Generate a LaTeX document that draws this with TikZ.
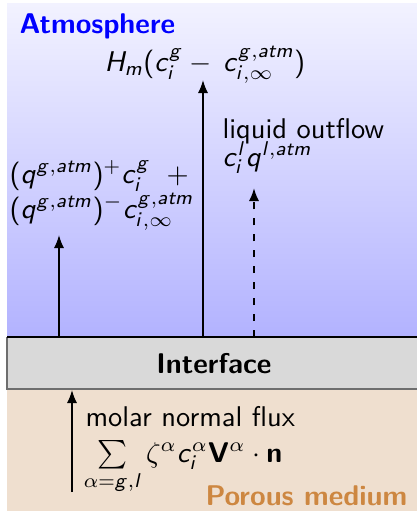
\documentclass[tikz,border=0pt]{standalone}
\usetikzlibrary{arrows.meta}
\renewcommand{\familydefault}{\sfdefault}
\DeclareSymbolFont{sfit}{OT1}{cmss}{m}{sl}
\SetSymbolFont{operators}{normal}{OT1}{cmss}{m}{n}
\DeclareMathAlphabet{\mathbf}{OT1}{cmss}{bx}{n}
\DeclareMathSymbol{H}{\mathalpha}{sfit}{`H}
\DeclareMathSymbol{m}{\mathalpha}{sfit}{`m}
\DeclareMathSymbol{c}{\mathalpha}{sfit}{`c}
\DeclareMathSymbol{i}{\mathalpha}{sfit}{`i}
\DeclareMathSymbol{g}{\mathalpha}{sfit}{`g}
\DeclareMathSymbol{a}{\mathalpha}{sfit}{`a}
\DeclareMathSymbol{t}{\mathalpha}{sfit}{`t}
\DeclareMathSymbol{q}{\mathalpha}{sfit}{`q}
\DeclareMathSymbol{l}{\mathalpha}{sfit}{`l}
\definecolor{atmblue}{RGB}{0,0,255}
\definecolor{beige}{RGB}{239,223,207}
\definecolor{porous}{RGB}{205,135,65}
\definecolor{boxgray}{RGB}{217,217,217}
\definecolor{boxborder}{RGB}{110,110,110}
\begin{document}
\begin{tikzpicture}[x=0.351pt,y=-0.351pt,
  lbl/.style={inner sep=0pt, anchor=base west, font=\sffamily},
  flow/.style={line width=0.6pt, -{Latex[length=4.6pt,width=3.6pt]}}]
\useasboundingbox (0,0) rectangle (417,514);
% regions
\shade[top color=blue!5, bottom color=blue!30] (7,3) rectangle (417,337);
\fill[beige] (7,389) rectangle (417,511);
\fill[boxgray] (7,337) rectangle (417,389);
\draw[boxborder, line width=0.6pt] (417,389) -- (7,389) -- (7,337);
\draw[line width=0.5pt] (7,337) -- (417,337);
% texts
\node[lbl, font=\sffamily\bfseries, text=atmblue] (atm) at (19,33) {Atmosphere};
\node[lbl] (hm) at (104,71) {$H_m(c_i^g-\mkern3mu c_{i,\infty}^{g,atm})$};
\node[lbl] (liq) at (222,138) {liquid outflow};
\node[lbl] (cl) at (222,166) {$c_i^l q^{l,atm}$};
\node[lbl] (qp) at (9,183) {$(q^{g,atm})^{+} c_i^{g}\mkern10mu{+}$};
\node[lbl] (qm) at (9,218) {$(q^{g,atm})^{-} c_{i,\infty}^{g,atm}$};
\node[lbl, font=\sffamily\bfseries, anchor=base] (int) at (214,373) {Interface};
\node[lbl] (mol) at (85,426) {molar normal flux};
\node[lbl] (sum) at (83,462) {$\sum\limits_{\alpha=g,l}\zeta^\alpha c_i^\alpha\mathbf{V}^\alpha\cdot\mathbf{n}$};
\node[lbl, font=\sffamily\bfseries, text=porous, anchor=base east] (por) at (408,505) {Porous medium};
% connector ends
\coordinate (s1) at (59,337);  \coordinate (e1) at (59,235);
\coordinate (s2) at (203,337); \coordinate (e2) at (203,80);
\coordinate (s3) at (254,337); \coordinate (e3) at (254,188);
\coordinate (s4) at (72,492);  \coordinate (e4) at (72,390);
\draw[flow] (s1) -- (e1);
\draw[flow] (s2) -- (e2);
\draw[flow, line width=0.7pt, dash pattern=on 2.6pt off 3pt] (s3) -- (e3);
\draw[flow] (s4) -- (e4);
\end{tikzpicture}
\end{document}
